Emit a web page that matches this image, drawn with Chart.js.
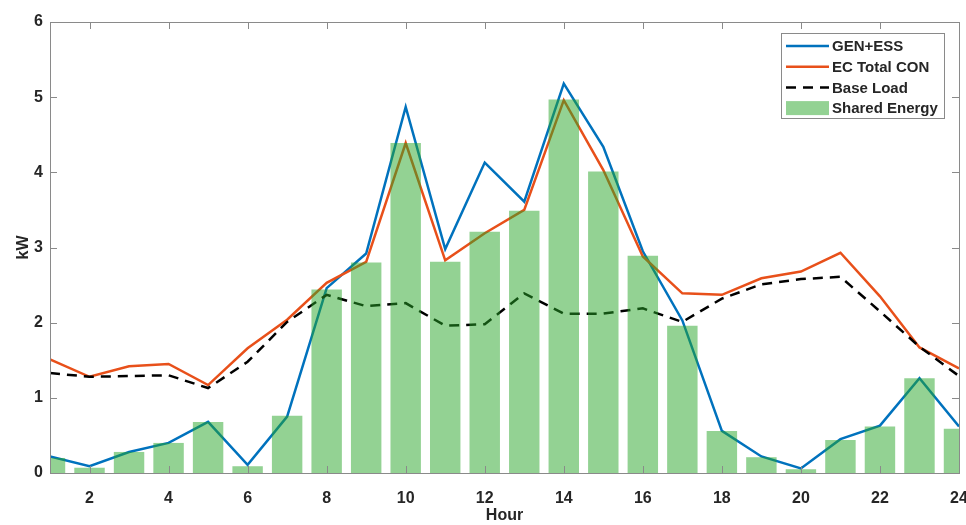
<!DOCTYPE html>
<html>
<head>
<meta charset="utf-8">
<title>Hourly energy</title>
<script src="https://cdn.jsdelivr.net/npm/chart.js@4.4.1/dist/chart.umd.min.js"></script>
<style>
  html, body { margin: 0; padding: 0; background: #fff; }
  #wrap { width: 966px; height: 525px; }
</style>
</head>
<body>
<div id="wrap"><canvas id="energyChart" width="966" height="525"></canvas></div>
<script>
const hours = [1, 2, 3, 4, 5, 6, 7, 8, 9, 10, 11, 12, 13, 14, 15, 16, 17, 18, 19, 20, 21, 22, 23, 24]

const genEss = [0.22, 0.09, 0.28, 0.40, 0.68, 0.11, 0.75, 2.46, 2.92, 4.87, 2.98, 4.13,
  3.61, 5.18, 4.34, 2.95, 2.03, 0.56, 0.22, 0.06, 0.45, 0.63, 1.26, 0.62]
const ecTotalCon = [1.51, 1.28, 1.42, 1.45, 1.17, 1.66, 2.04, 2.53, 2.81, 4.39, 2.83, 3.19,
  3.50, 4.96, 4.03, 2.88, 2.39, 2.37, 2.59, 2.68, 2.93, 2.35, 1.67, 1.39]
const baseLoad = [1.33, 1.28, 1.29, 1.30, 1.13, 1.48, 2.01, 2.37, 2.22, 2.26, 1.96, 1.98,
  2.39, 2.12, 2.12, 2.19, 2.01, 2.32, 2.51, 2.58, 2.61, 2.15, 1.68, 1.29]
const sharedEnergy = [0.20, 0.07, 0.28, 0.40, 0.68, 0.09, 0.76, 2.44, 2.80, 4.39, 2.81, 3.21,
  3.49, 4.97, 4.01, 2.89, 1.96, 0.56, 0.21, 0.05, 0.44, 0.62, 1.26, 0.59]

const xTickLabels = [2, 4, 6, 8, 10, 12, 14, 16, 18, 20, 22, 24]
const yTickLabels = [0, 1, 2, 3, 4, 5, 6]

const toPoints = (values) => values.map((v, i) => ({ x: hours[i], y: v }))

Chart.defaults.font.family = '"Liberation Sans", Arial, sans-serif'
Chart.defaults.font.weight = 'bold'
Chart.defaults.color = '#262626'

// axes box with inward tick marks on all four sides
const boxAndTicks = {
  id: 'boxAndTicks',
  afterDatasetsDraw(chart) {
    const { ctx, chartArea: a, scales } = chart
    const len = 7
    ctx.save()
    ctx.strokeStyle = '#8a8a8a'
    ctx.lineWidth = 1
    ctx.beginPath()
    scales.x.ticks.forEach((t) => {
      const px = Math.round(scales.x.getPixelForValue(t.value)) + 0.5
      ctx.moveTo(px, a.bottom)
      ctx.lineTo(px, a.bottom - len)
      ctx.moveTo(px, a.top)
      ctx.lineTo(px, a.top + len)
    })
    scales.y.ticks.forEach((t) => {
      const py = Math.round(scales.y.getPixelForValue(t.value)) + 0.5
      ctx.moveTo(a.left, py)
      ctx.lineTo(a.left + len, py)
      ctx.moveTo(a.right, py)
      ctx.lineTo(a.right - len, py)
    })
    ctx.stroke()
    ctx.strokeRect(Math.round(a.left) + 0.5, Math.round(a.top) + 0.5,
      Math.round(a.right - a.left), Math.round(a.bottom - a.top))
    ctx.restore()
  }
}

// boxed legend in the upper right corner of the plot
const boxLegend = {
  id: 'boxLegend',
  afterDraw(chart) {
    const { ctx, chartArea: a } = chart
    const w = 163
    const h = 85
    const x0 = a.right - 15 - w
    const y0 = a.top + 11
    const rowH = 20.7
    ctx.save()
    ctx.fillStyle = '#ffffff'
    ctx.fillRect(x0, y0, w, h)
    ctx.strokeStyle = '#8a8a8a'
    ctx.lineWidth = 1
    ctx.strokeRect(Math.round(x0) + 0.5, Math.round(y0) + 0.5, w, h)
    ctx.font = 'bold 15px "Liberation Sans", Arial, sans-serif'
    ctx.textBaseline = 'middle'
    ctx.textAlign = 'left'
    chart.data.datasets.forEach((ds, i) => {
      const cy = y0 + 13 + i * rowH
      const sx = x0 + 5
      const ex = x0 + 48
      if (ds.type === 'line') {
        ctx.strokeStyle = ds.borderColor
        ctx.lineWidth = ds.borderWidth
        ctx.setLineDash(ds.borderDash || [])
        ctx.beginPath()
        ctx.moveTo(sx, cy)
        ctx.lineTo(ex, cy)
        ctx.stroke()
        ctx.setLineDash([])
      } else {
        ctx.fillStyle = ds.backgroundColor
        ctx.fillRect(sx, cy - 7, ex - sx, 14)
      }
      ctx.fillStyle = '#262626'
      ctx.fillText(ds.label, x0 + 51, cy + 1)
    })
    ctx.restore()
  }
}

new Chart(document.getElementById('energyChart'), {
  type: 'bar',
  data: {
    datasets: [
      {
        type: 'line',
        label: 'GEN+ESS',
        data: toPoints(genEss),
        borderColor: '#0072BD',
        borderWidth: 2.5,
        pointRadius: 0,
        tension: 0,
        order: 3
      },
      {
        type: 'line',
        label: 'EC Total CON',
        data: toPoints(ecTotalCon),
        borderColor: '#E8501A',
        borderWidth: 2.5,
        pointRadius: 0,
        tension: 0,
        order: 2
      },
      {
        type: 'line',
        label: 'Base Load',
        data: toPoints(baseLoad),
        borderColor: '#000000',
        borderWidth: 2.5,
        borderDash: [10, 7],
        pointRadius: 0,
        tension: 0,
        order: 1
      },
      {
        type: 'bar',
        label: 'Shared Energy',
        data: toPoints(sharedEnergy),
        backgroundColor: 'rgba(40, 165, 40, 0.5)',
        borderWidth: 0,
        barPercentage: 0.77,
        categoryPercentage: 1,
        clip: 0,
        order: 0
      }
    ]
  },
  options: {
    responsive: false,
    animation: false,
    devicePixelRatio: 1,
    layout: { padding: { top: 22, right: 7, left: 0, bottom: 0 } },
    plugins: {
      legend: { display: false },
      tooltip: { enabled: false }
    },
    scales: {
      x: {
        type: 'linear',
        min: 1,
        max: 24,
        offset: false,
        grid: { display: false, drawTicks: false },
        border: { display: false },
        afterBuildTicks: (scale) => {
          scale.ticks = xTickLabels.map((v) => ({ value: v }))
        },
        afterFit: (scale) => {
          scale.height = 52
          scale.paddingLeft = 0
          scale.paddingRight = 0
        },
        ticks: {
          font: { size: 16, weight: 'bold' },
          color: '#262626',
          padding: 16,
          maxRotation: 0,
          autoSkip: false
        },
        title: {
          display: true,
          text: 'Hour',
          font: { size: 16, weight: 'bold' },
          color: '#262626',
          padding: { top: 0, bottom: 0 }
        }
      },
      y: {
        min: 0,
        max: 6,
        grid: { display: false, drawTicks: false },
        border: { display: false },
        afterBuildTicks: (scale) => {
          scale.ticks = yTickLabels.map((v) => ({ value: v }))
        },
        afterFit: (scale) => {
          scale.width = 50
          scale.paddingTop = 0
          scale.paddingBottom = 0
        },
        ticks: {
          font: { size: 16, weight: 'bold' },
          color: '#262626',
          padding: 7
        },
        title: {
          display: true,
          text: 'kW',
          font: { size: 16, weight: 'bold' },
          color: '#262626',
          padding: { top: 14, bottom: 0 }
        }
      }
    }
  },
  plugins: [boxAndTicks, boxLegend]
})
</script>
</body>
</html>
